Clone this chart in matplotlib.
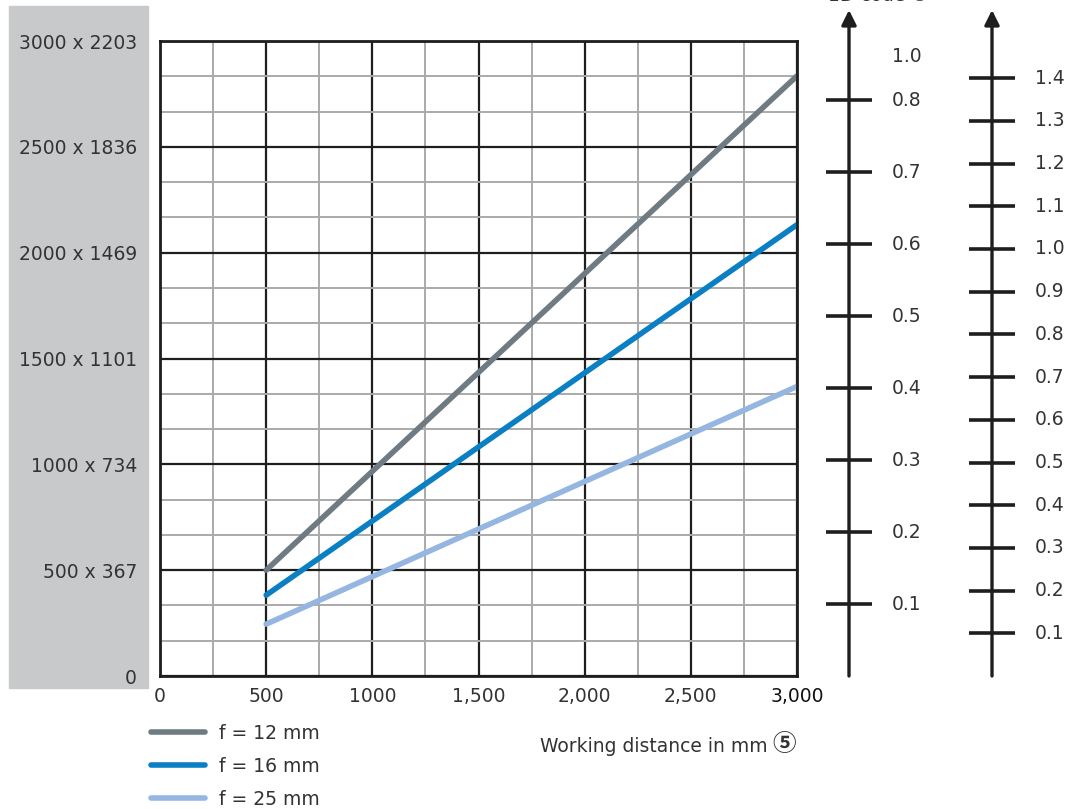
import matplotlib.pyplot as plt
from matplotlib.patches import Rectangle

plt.rcParams['font.family'] = ['DejaVu Sans', 'Noto Sans CJK SC']
TXT = '#333333'
FS = 13.5

# data
dist = [500, 3000]
fov_12 = [500, 2835]
fov_16 = [382, 2132]
fov_25 = [245, 1368]
series = [('f = 12 mm', fov_12, '#6e7b82'),
          ('f = 16 mm', fov_16, '#0a7fc3'),
          ('f = 25 mm', fov_25, '#94b6e1')]

x_ticks = [0, 500, 1000, 1500, 2000, 2500, 3000]
x_labels = ['0', '500', '1000', '1,500', '2,000', '2,500', '3,000']
y_ticks = [0, 500, 1000, 1500, 2000, 2500, 3000]
y_labels = ['0', '500 x 367', '1000 x 734', '1500 x 1101', '2000 x 1469',
            '2500 x 1836', '3000 x 2203']

code1d_ticks = [0.1, 0.2, 0.3, 0.4, 0.5, 0.6, 0.7, 0.8]
code1d_top = ('1.0', 0.86)
code2d_ticks = [0.1, 0.2, 0.3, 0.4, 0.5, 0.6, 0.7, 0.8, 0.9, 1.0, 1.1, 1.2, 1.3, 1.4]

W, H = 1082, 809
fig = plt.figure(figsize=(W / 100, H / 100), dpi=100)

def rect(x0, y0, x1, y1):
    # pixel box (top-left origin) -> figure fraction
    return [x0 / W, 1 - y1 / H, (x1 - x0) / W, (y1 - y0) / H]

# grey label band
fig.patches.append(Rectangle((9 / W, 1 - 688 / H), 139 / W, 682 / H,
                             transform=fig.transFigure, color='#c8c9cb', zorder=-5))

ax = fig.add_axes(rect(160, 41, 797, 676))
ax.set_xlim(0, 3000)
ax.set_ylim(0, 3000)
ax.set_xticks(x_ticks, x_labels)
ax.set_yticks(y_ticks, y_labels)
ax.set_xticks(range(0, 3001, 250), minor=True)
ax.set_yticks([i * 500 / 3 for i in range(19)], minor=True)
ax.grid(which='minor', color='#aaaaaa', lw=1.4)
ax.grid(which='major', color='#1e1e1e', lw=1.6)
ax.tick_params(which='both', length=0)
ax.tick_params(axis='x', pad=8, labelsize=FS, labelcolor=TXT)
ax.tick_params(axis='y', pad=16.5, labelsize=FS, labelcolor=TXT)
ax.get_xticklabels()[-1].set_color('#111111')
for s in ax.spines.values():
    s.set_linewidth(2)
    s.set_color('#1e1e1e')
ax.set_axisbelow(True)

for lab, vals, col in series:
    ax.plot(dist, vals, color=col, lw=4, label=lab, solid_capstyle='round')

fig.legend(loc='upper left', bbox_to_anchor=(134 / W, 1 - 707 / H), frameon=False,
           fontsize=FS, handlelength=2.9, handletextpad=0.75, labelspacing=0.75,
           labelcolor=TXT)

fig.text(768 / W, 1 - 746 / H, 'Working distance in mm', ha='right',
         va='center', fontsize=FS, color=TXT)
fig.text(772 / W, 1 - 744 / H, '\u2464', ha='left', va='center', fontsize=17,
         color=TXT, family=['Noto Sans CJK JP', 'DejaVu Sans'], fontweight='bold')
fig.text(878 / W, 1 - 1 / H, '1D code \u2463', ha='center', va='baseline',
         fontsize=FS, color=TXT)

def scale_axis(box, top, ticks, extra=None):
    a = fig.add_axes(rect(*box))
    a.set_xlim(-1, 1)
    a.set_ylim(0, top)
    a.axis('off')
    a.annotate('', xy=(0, top), xytext=(0, 0),
               arrowprops=dict(arrowstyle='-|>', lw=2.4, color='#1e1e1e',
                               mutation_scale=22, shrinkA=0, shrinkB=0))
    a.hlines(ticks, -1, 1, color='#1e1e1e', lw=2.6)
    labs = [(f'{t:.1f}', t) for t in ticks]
    if extra:
        labs.append(extra)
    for s, v in labs:
        a.annotate(s, xy=(1, v), xytext=(20, 0), textcoords='offset pixels',
                   va='center', ha='left', fontsize=FS, color=TXT)
    return a

scale_axis((826, 10, 872, 676), 666 / 720, code1d_ticks, code1d_top)
scale_axis((969, 10, 1015, 676), 666 / 427, code2d_ticks)

fig.savefig('out.png', dpi=100)
